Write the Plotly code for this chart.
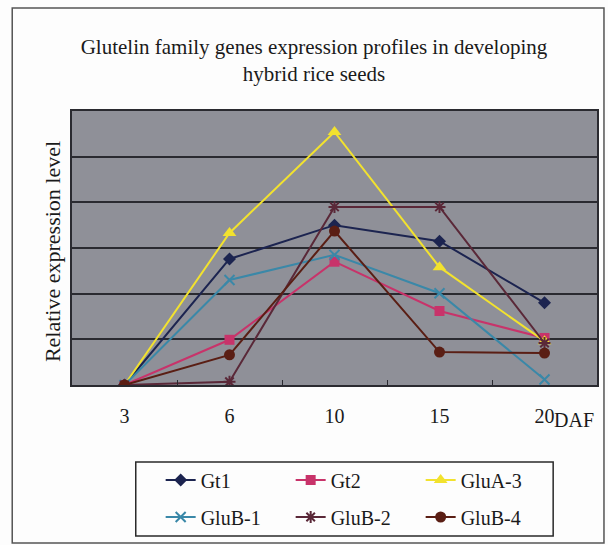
import plotly.graph_objects as go

# Sampling days (days after flowering) and relative expression per gene
days = ["3", "6", "10", "15", "20"]
gt1 = [0.0, 2.76, 3.50, 3.15, 1.80]
gt2 = [0.0, 0.99, 2.70, 1.62, 1.03]
glua3 = [0.0, 3.33, 5.54, 2.58, 0.96]
glub1 = [0.0, 2.30, 2.85, 2.01, 0.12]
glub2 = [0.0, 0.07, 3.90, 3.90, 0.92]
glub4 = [0.0, 0.66, 3.37, 0.72, 0.70]

series = [
    ("Gt1", gt1, "#1c2450", "diamond", 10, "legend"),
    ("Gt2", gt2, "#c8336a", "square", 10, "legend"),
    ("GluA-3", glua3, "#f2e22e", "triangle-up", 12, "legend"),
    ("GluB-1", glub1, "#3a88a8", "x-thin-open", 10, "legend2"),
    ("GluB-2", glub2, "#5a2838", "asterisk-open", 10, "legend2"),
    ("GluB-4", glub4, "#5a1e14", "circle", 11, "legend2"),
]

W, H = 608, 545
L, R, T, B = 72, 9, 111, 160
PW, PH = W - L - R, H - T - B


def px(x):
    return (x - L) / PW


def py(y):
    return (H - B - y) / PH


fig = go.Figure()
for name, vals, color, sym, size, leg in series:
    fig.add_trace(go.Scatter(
        x=days, y=vals, name=name, mode="lines+markers", legend=leg,
        line=dict(color=color, width=2),
        marker=dict(symbol=sym, size=size, color=color,
                    line=dict(color=color, width=2 if "open" in sym else 0)),
    ))

serif = "Liberation Serif, Times New Roman, serif"

fig.update_layout(
    width=W, height=H,
    margin=dict(l=L, r=R, t=T, b=B),
    paper_bgcolor="#fdfdfd",
    plot_bgcolor="#8f9098",
    font=dict(family=serif, size=20, color="#1a1a1a"),
    title=dict(
        text="Glutelin family genes expression profiles in developing<br>hybrid rice seeds",
        x=314 / W, xanchor="center", y=1 - 54 / H, yanchor="middle",
        font=dict(family=serif, size=21, color="#1a1a1a"),
    ),
    xaxis=dict(
        type="category", range=[-0.5, 4.5], tickson="boundaries",
        ticks="inside", ticklen=5,
        tickcolor="#2a2a30", showgrid=False, showline=True, mirror=True,
        linecolor="#2a2a30", linewidth=1.5, tickfont=dict(size=20),
        ticklabelstandoff=12,
    ),
    yaxis=dict(
        range=[0, 6], dtick=1, showticklabels=False, ticks="",
        showgrid=True, gridcolor="#2a2a30", gridwidth=1.5,
        showline=True, mirror=True, linecolor="#2a2a30", linewidth=1.5,
        zeroline=False,
    ),
    legend=dict(
        orientation="h", x=px(161), xanchor="left", y=py(480), yanchor="middle",
        entrywidth=85, bgcolor="rgba(0,0,0,0)", borderwidth=0,
        font=dict(size=20), itemclick=False,
    ),
    legend2=dict(
        orientation="h", x=px(161), xanchor="left", y=py(517), yanchor="middle",
        entrywidth=85, bgcolor="rgba(0,0,0,0)", borderwidth=0,
        font=dict(size=20), itemclick=False,
    ),
    annotations=[
        dict(text="Relative expression level", x=px(52), y=py(252),
             xref="paper", yref="paper", textangle=-90, showarrow=False,
             font=dict(size=22), xanchor="center", yanchor="middle"),
        dict(text="DAF", x=px(576), y=py(420), xref="paper", yref="paper",
             showarrow=False, font=dict(size=20), xanchor="center", yanchor="middle"),
    ],
    shapes=[
        # legend frame
        dict(type="rect", xref="paper", yref="paper",
             x0=px(136), x1=px(555), y0=py(462), y1=py(536),
             line=dict(color="#2a2a2a", width=1.5)),
        # outer chart frame
        dict(type="rect", xref="paper", yref="paper",
             x0=px(12), x1=px(606), y0=py(8), y1=py(543),
             line=dict(color="#555555", width=1.5)),
    ],
)

fig.write_html("out.html")
